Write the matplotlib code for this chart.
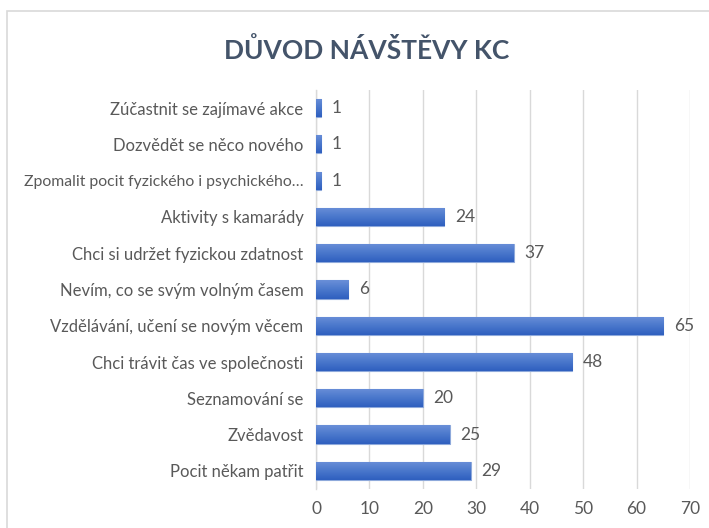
import numpy as np
import matplotlib.pyplot as plt
from matplotlib.patches import Rectangle
from matplotlib.colors import LinearSegmentedColormap

plt.rcParams['font.family'] = ['Lato', 'DejaVu Sans']

# data (top to bottom as shown)
reasons = [
    "Zúčastnit se zajímavé akce",
    "Dozvědět se něco nového",
    "Zpomalit pocit fyzického i psychického…",
    "Aktivity s kamarády",
    "Chci si udržet fyzickou zdatnost",
    "Nevím, co se svým volným časem",
    "Vzdělávání, učení se novým věcem",
    "Chci trávit čas ve společnosti",
    "Seznamování se",
    "Zvědavost",
    "Pocit někam patřit",
]
counts = [1, 1, 1, 24, 37, 6, 65, 48, 20, 25, 29]
x_ticks = [0, 10, 20, 30, 40, 50, 60, 70]

text_col = '#595959'
grid_col = '#D9D9D9'

fig = plt.figure(figsize=(7.09, 5.28), dpi=100)
ax = fig.add_axes([0.4457, 0.074, 0.5275, 0.7555])

ypos = np.arange(len(reasons))[::-1]
bars = ax.barh(ypos, counts, height=0.5, color='#4472C4', edgecolor='#8EA9DB',
               linewidth=0.8, zorder=3)

# excel-like vertical gradient inside every bar
cmap = LinearSegmentedColormap.from_list('g', ['#2F5FBF', '#4A78CC', '#6A8FD8'])
grad = np.linspace(0, 1, 64).reshape(-1, 1)
for b in bars:
    x0, y0 = b.get_x(), b.get_y()
    w, h = b.get_width(), b.get_height()
    im = ax.imshow(grad, cmap=cmap, aspect='auto', origin='lower',
                   extent=(x0, x0 + w, y0, y0 + h), zorder=3.5)
    im.set_clip_path(b)

for y, v in zip(ypos, counts):
    ax.text(v + 2.0, y, str(v), va='center', ha='left', fontsize=12.5,
            color=text_col, zorder=4)

ax.set_xlim(0, 70)
ax.set_ylim(-0.5, len(reasons) - 0.5)
ax.set_xticks(x_ticks)
ax.set_yticks(ypos)
ax.set_yticklabels(reasons)
ax.tick_params(axis='y', length=0, pad=9, labelsize=12, labelcolor=text_col)
ax.tick_params(axis='x', length=0, pad=9, labelsize=12.5, labelcolor=text_col)
# the truncated label is long, keep it inside the chart frame
for lbl in ax.get_yticklabels():
    if lbl.get_text().endswith('…'):
        lbl.set_fontsize(11.3)
ax.xaxis.grid(True, color=grid_col, linewidth=1, zorder=0)
for s in ['top', 'right', 'bottom']:
    ax.spines[s].set_visible(False)
ax.spines['left'].set_color(grid_col)
ax.spines['left'].set_linewidth(1)

fig.text(0.5175, 0.905, "DŮVOD NÁVŠTĚVY KC", ha='center', va='center',
         fontsize=19, fontweight='bold', color='#44546A')

# chart border
fig.patches.append(Rectangle((7 / 709, -0.1), 1.2, 1 - 11 / 528 + 0.1,
                             transform=fig.transFigure, fill=False,
                             edgecolor=grid_col, linewidth=1.2))

fig.savefig('out.png', dpi=100)
